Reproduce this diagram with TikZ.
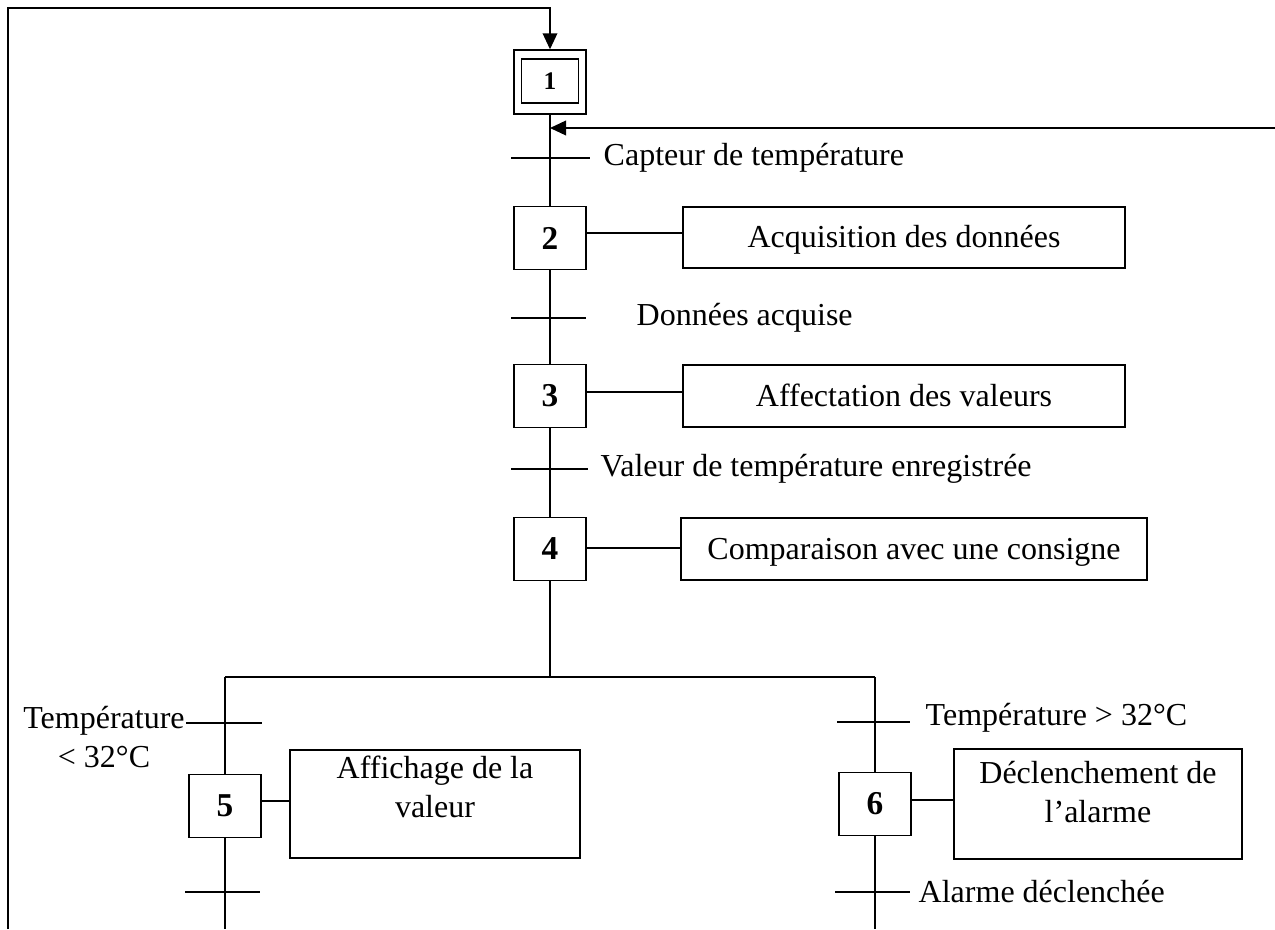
\documentclass[tikz,border=0pt]{standalone}
\usepackage{fontspec}
\setmainfont{Liberation Serif}
\usetikzlibrary{arrows.meta}
\begin{document}
\begin{tikzpicture}[x=0.75pt,y=-0.75pt,line width=1.1pt,
  every node/.style={font=\fontsize{24}{29}\selectfont},
  stepbox/.style={draw,minimum width=54pt,minimum height=47pt,inner sep=0pt,
    font=\fontsize{25}{28}\selectfont\bfseries},
  actbox/.style={draw,inner sep=0pt},
  oneline/.style={actbox,text height=20pt,text depth=5pt},
  lbl/.style={anchor=west,inner sep=0pt},
  arr/.style={-{Triangle[length=12pt,width=11pt]}}]
\useasboundingbox (0,0) rectangle (1275,929);

% initial step (double frame)
\node[stepbox,minimum width=54pt,minimum height=48pt] (s1) at (550,82) {};
\node[draw,minimum width=42.75pt,minimum height=33pt,inner sep=0pt,
  font=\fontsize{19}{22}\selectfont\bfseries] (s1i) at (550,81) {1};

% main sequence of steps
\node[stepbox] (s2) at (550,238) {2};
\node[stepbox] (s3) at (550,396) {3};
\node[stepbox] (s4) at (550,549) {4};
\node[stepbox] (s5) at (225,806) {5};
\node[stepbox] (s6) at (875,804) {6};

% actions
\node[oneline,minimum width=331.5pt,minimum height=45.75pt] (a2) at (904,237.5) {Acquisition des données};
\node[oneline,minimum width=331.5pt,minimum height=46.5pt] (a3) at (904,396) {Affectation des valeurs};
\node[oneline,minimum width=349.5pt,minimum height=46.5pt] (a4) at (914,549) {Comparaison avec une consigne};
\node[actbox,minimum width=217.5pt,minimum height=81pt] (a5) at (435,804) {};
\node[align=center,inner sep=0pt] (t5) at (435,787) {Affichage de la\\valeur};
\node[actbox,minimum width=216pt,minimum height=82.5pt] (a6) at (1098,804) {};
\node[align=center,inner sep=0pt] (t6) at (1098,792) {Déclenchement de\\l’alarme};

% each step linked to its action
\foreach \s/\a/\d in {s2/a2/5,s3/a3/4,s4/a4/1,s5/a5/5,s6/a6/4}
  \draw ([yshift=\d*0.75pt]\s.east) -- ([yshift=\d*0.75pt]\s.east -| \a.west);

% links between steps
\coordinate (r1) at (550,128);
\draw (s1.south) -- (s2.north);
\draw (s2.south) -- (s3.north);
\draw (s3.south) -- (s4.north);
\coordinate (div) at (550,677);
\coordinate (divL) at (225,677);
\coordinate (divR) at (875,677);
\draw (s4.south) -- (div);
\draw (divL) -- (divR);
\draw (divL) -- (divL |- s5.north);
\draw (divR) -- (divR |- s6.north);
\coordinate (e5) at (225,929);
\coordinate (e6) at (875,929);
\draw (s5.south) -- (e5);
\draw (s6.south) -- (e6);

% loops back to the initial step
\coordinate (lb) at (8,929);
\coordinate (lt) at (8,8);
\coordinate (lc) at (550,8);
\draw[arr] (lb) -- (lt) -- (lc) -- (s1.north);
\coordinate (rr) at (1275,128);
\draw[arr] (rr) -- (r1);

% transitions
\draw (511,158) -- (590,158);
\node[lbl] (c1) at (603,158) {Capteur de température};
\draw (511,318) -- (586,318);
\node[lbl] (c2) at (636,318) {Données acquise};
\draw (511,469) -- (588,469);
\node[lbl] (c3) at (600,469) {Valeur de température enregistrée};
\draw (186,723) -- (262,723);
\node[align=center,inner sep=0pt] (c4) at (104,737) {Température\\< 32°C};
\draw (837,722) -- (910,722);
\node[lbl] (c5) at (925,718) {Température > 32°C};
\draw (185,892) -- (260,892);
\draw (835,892) -- (910,892);
\node[lbl] (c6) at (918,892) {Alarme déclenchée};
\end{tikzpicture}
\end{document}
